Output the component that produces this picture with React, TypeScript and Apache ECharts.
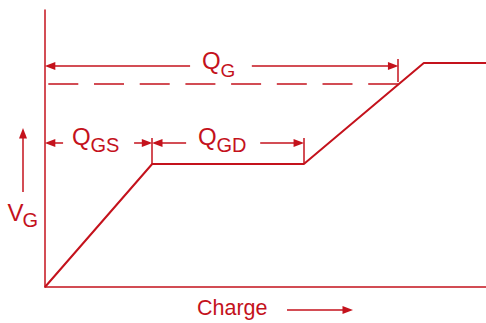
import React, { useEffect, useRef } from 'react';
import * as echarts from 'echarts';

const RED = '#c4121c';
const FONT = '"Liberation Sans", Arial, Helvetica, sans-serif';

// Gate charge curve (normalized units: charge 0–100, gate voltage 0–100)
const charge = [0, 24.3, 58.7, 85.9, 100];
const vgate = [0, 44.4, 44.4, 80.9, 80.9];

const qgsCharge = 24.3; // end of Q_GS
const qgdCharge = 58.7; // end of Q_GD (plateau end)
const qgCharge = 80.1;  // total Q_G
const qgLevel = 73.3;   // dashed drive level
const qgArrowY = 79.8;
const qgTickTop = 82.3;
const qgTickBottom = 74.0;
const qgsArrowY = 52.0;
const qgsTickTop = 53.8;

const HEAD = 1.15; // half arrowhead length in charge units

function seg(x1: number, y1: number, x2: number, y2: number, head = true, extra: any = {}) {
  let ex = x2;
  if (head) ex = x2 > x1 ? x2 - HEAD : x2 + HEAD;
  return [
    { coord: [x1, y1], symbol: 'none', lineStyle: { color: RED, width: 1.5, type: 'solid', ...extra } },
    { coord: [ex, y2], symbol: head ? 'triangle' : 'none', symbolSize: [8, 10.5] },
  ];
}

export default function App() {
  const ref = useRef<HTMLDivElement>(null);
  useEffect(() => {
    if (!ref.current) return;
    const chart = echarts.init(ref.current, undefined, { renderer: 'svg' });
    const txt = (text: string, x: number, y: number, size: number) => ({
      type: 'text',
      x,
      y,
      silent: true,
      style: {
        text,
        fill: RED,
        font: `${size}px ${FONT}`,
        align: 'left',
        verticalAlign: 'middle',
        textAlign: 'left',
        textVerticalAlign: 'middle',
      },
    });
    chart.setOption({
      animation: false,
      grid: { left: 45, right: 0, top: 10, bottom: 36 },
      xAxis: {
        type: 'value', min: 0, max: 100,
        axisLine: { show: true, lineStyle: { color: RED, width: 1.5 } },
        axisTick: { show: false }, axisLabel: { show: false }, splitLine: { show: false },
      },
      yAxis: {
        type: 'value', min: 0, max: 100,
        axisLine: { show: true, lineStyle: { color: RED, width: 1.5 } },
        axisTick: { show: false }, axisLabel: { show: false }, splitLine: { show: false },
      },
      series: [
        {
          type: 'line',
          data: charge.map((c, i) => [c, vgate[i]]),
          showSymbol: false,
          symbol: 'none',
          lineStyle: { color: RED, width: 2 },
          itemStyle: { color: RED },
          clip: false,
          markLine: {
            silent: true,
            label: { show: false },
            itemStyle: { color: RED },
            data: [
              seg(32.9, qgArrowY, 0, qgArrowY),
              seg(46.9, qgArrowY, qgCharge, qgArrowY),
              seg(qgCharge, qgTickTop, qgCharge, qgTickBottom, false),
              seg(0.75, qgLevel, qgCharge, qgLevel, false, { type: [30, 15.7] }),
              seg(4.1, qgsArrowY, 0, qgsArrowY),
              seg(20.2, qgsArrowY, qgsCharge, qgsArrowY),
              seg(32.0, qgsArrowY, qgsCharge, qgsArrowY),
              seg(48.8, qgsArrowY, qgdCharge, qgsArrowY),
              seg(qgsCharge, qgsTickTop, qgsCharge, vgate[1], false),
              seg(qgdCharge, qgsTickTop, qgdCharge, vgate[2], false),
            ],
          },
        },
      ],
      graphic: [
        txt('Q', 202, 60, 24),
        txt('G', 220.5, 70, 19),
        txt('Q', 72, 136, 24),
        txt('GS', 90.5, 144.5, 20),
        txt('Q', 198, 136, 24),
        txt('GD', 216.5, 144.5, 20),
        txt('V', 7.5, 212.5, 24),
        txt('G', 22.5, 220, 20),
        txt('Charge', 197, 308, 21.5),
        { type: 'line', silent: true, shape: { x1: 23, y1: 192, x2: 23, y2: 137 }, style: { stroke: RED, lineWidth: 1.5 } },
        { type: 'polygon', silent: true, shape: { points: [[23, 128], [19, 138.5], [27, 138.5]] }, style: { fill: RED } },
        { type: 'line', silent: true, shape: { x1: 287, y1: 310, x2: 344, y2: 310 }, style: { stroke: RED, lineWidth: 1.5 } },
        { type: 'polygon', silent: true, shape: { points: [[353, 310], [342.5, 306], [342.5, 314]] }, style: { fill: RED } },
      ],
    });
    return () => chart.dispose();
  }, []);
  return <div ref={ref} style={{ position: 'absolute', left: 0, top: 0, width: 486, height: 323 }} />;
}
